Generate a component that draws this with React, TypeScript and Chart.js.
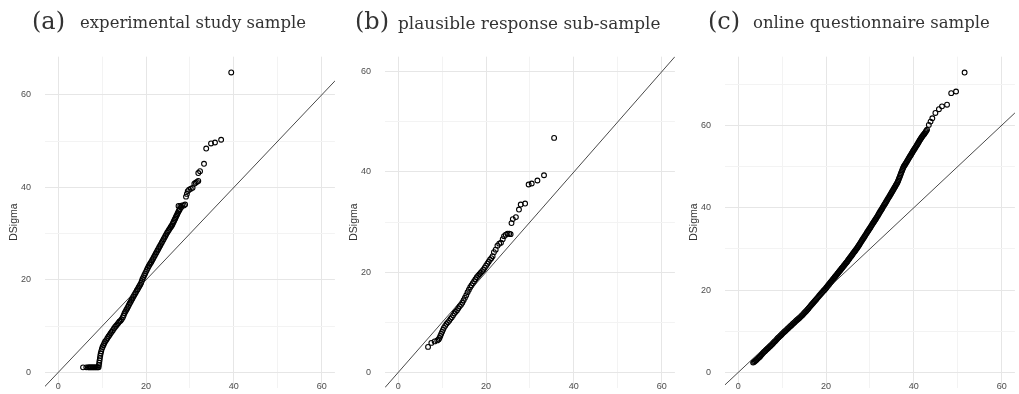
import React, { useEffect, useRef } from "react";
import { Chart, registerables } from "chart.js";

Chart.register(...registerables);

// ---- Data ----
const panelTitles = ["(a)", "(b)", "(c)"];
const panelSubtitles = [
  "experimental study sample",
  "plausible response sub-sample",
  "online questionnaire sample",
];
const yAxisTitle = "DSigma";
const xTickValues = [0, 20, 40, 60];
const yTickValues = [0, 20, 40, 60];

// (a) experimental study sample: [x, DSigma]
const aPoints = [
  [5.66, 1.1], [6.4, 1.1], [6.8, 1.1], [7.0, 1.1], [7.2, 1.1], [7.4, 1.1], [7.6, 1.1], [7.8, 1.1], [8.0, 1.1],
  [8.2, 1.1], [8.4, 1.1], [8.6, 1.1], [8.8, 1.1], [9.0, 1.1], [9.2, 1.1],
  [9.28, 1.6], [9.35, 2.1], [9.42, 2.6], [9.5, 3.1], [9.58, 3.6], [9.68, 4.1], [9.8, 4.6], [9.95, 5.1], [10.1, 5.5],
  [10.3, 5.9], [10.5, 6.3], [10.7, 6.7], [10.95, 7.0], [11.2, 7.4], [11.45, 7.8], [11.7, 8.1], [11.95, 8.5],
  [12.2, 8.8], [12.45, 9.15], [12.7, 9.5], [12.95, 9.85], [13.2, 10.1], [13.45, 10.4], [13.7, 10.7], [13.95, 11.0],
  [14.2, 11.2], [14.45, 11.5], [14.7, 11.9], [14.9, 12.3], [15.1, 12.8], [15.3, 13.15], [15.5, 13.5], [15.7, 13.85],
  [15.9, 14.2], [16.1, 14.6], [16.3, 14.95], [16.5, 15.3], [16.7, 15.65], [16.9, 16.0], [17.1, 16.35], [17.3, 16.7],
  [17.5, 17.0], [17.7, 17.35], [17.9, 17.7], [18.1, 18.0], [18.3, 18.35], [18.5, 18.7], [18.7, 19.0], [18.9, 19.4],
  [19.05, 19.8], [19.2, 20.2], [19.4, 20.6], [19.6, 21.0], [19.8, 21.4], [20.0, 21.8], [20.2, 22.2], [20.4, 22.6],
  [20.6, 22.95], [20.8, 23.3], [21.0, 23.6], [21.2, 23.9], [21.4, 24.25], [21.6, 24.6], [21.8, 24.95], [22.0, 25.3],
  [22.2, 25.65], [22.4, 26.0], [22.6, 26.35], [22.8, 26.7], [23.0, 27.05], [23.2, 27.4], [23.4, 27.75], [23.6, 28.1],
  [23.8, 28.45], [24.0, 28.8], [24.2, 29.15], [24.4, 29.5], [24.6, 29.85], [24.8, 30.2], [25.0, 30.5], [25.2, 30.8],
  [25.4, 31.1], [25.6, 31.4], [25.75, 31.6], [25.9, 31.8], [26.05, 32.1], [26.2, 32.4], [26.35, 32.7], [26.5, 33.0],
  [26.65, 33.3], [26.8, 33.6], [26.95, 33.9], [27.1, 34.2], [27.25, 34.5], [27.4, 34.8], [27.55, 35.05], [27.7, 35.3],
  [28.0, 35.7], [27.4, 36.0], [27.8, 36.0], [28.2, 36.1], [28.6, 36.1], [28.9, 36.3], [29.1, 38.0],
  [29.3, 38.6], [29.5, 39.2], [29.8, 39.5], [30.2, 39.7], [30.6, 39.9], [31.0, 40.8], [31.3, 41.0], [31.6, 41.2],
  [31.9, 41.4], [31.9, 43.1], [32.3, 43.5], [33.2, 45.1], [33.7, 48.4], [34.8, 49.5], [35.7, 49.7], [37.1, 50.3],
  [39.4, 64.85],
];

// (b) plausible response sub-sample: [x, DSigma]
const bPoints = [
  [6.8, 5.1], [7.55, 5.9], [8.3, 6.2], [8.9, 6.4], [9.2, 6.6], [9.4, 6.9], [9.6, 7.3], [9.8, 7.7], [10.0, 8.1],
  [10.2, 8.5], [10.4, 8.9], [10.7, 9.3], [11.0, 9.7], [11.3, 10.0], [11.6, 10.3], [11.9, 10.7], [12.2, 11.0],
  [12.5, 11.4], [12.8, 11.8], [13.1, 12.1], [13.4, 12.4], [13.7, 12.8], [14.0, 13.2], [14.3, 13.5], [14.6, 13.9],
  [14.9, 14.4], [15.2, 14.9], [15.5, 15.4], [15.8, 16.0], [16.1, 16.5], [16.4, 17.0], [16.7, 17.4], [17.0, 17.8],
  [17.3, 18.2], [17.6, 18.6], [17.9, 19.0], [18.2, 19.3], [18.5, 19.6], [18.8, 19.9], [19.1, 20.2], [19.4, 20.5],
  [19.7, 20.9], [20.0, 21.3], [20.3, 21.7], [20.6, 22.1], [20.9, 22.5], [21.2, 22.8], [21.5, 23.2], [21.8, 24.0],
  [22.2, 24.5], [22.6, 25.3], [23.0, 25.7], [23.4, 25.9], [23.8, 26.6], [24.1, 27.2], [24.5, 27.5], [24.9, 27.7],
  [25.3, 27.7], [25.6, 27.6], [25.8, 29.8], [26.1, 30.6], [26.8, 31.0], [27.5, 32.5], [27.9, 33.5], [28.9, 33.7],
  [29.7, 37.5], [30.4, 37.7], [31.7, 38.3], [33.2, 39.35], [35.5, 46.8],
];

// (c) online questionnaire sample: [x, DSigma]
const cPoints = [
  [3.4, 2.4], [3.6, 2.57], [3.8, 2.75], [4.0, 2.92], [4.2, 3.1], [4.4, 3.3], [4.6, 3.5], [4.8, 3.7], [5.0, 3.9],
  [5.2, 4.15], [5.4, 4.4], [5.6, 4.65], [5.8, 4.9], [6.0, 5.1], [6.2, 5.3], [6.4, 5.5], [6.6, 5.7], [6.8, 5.9],
  [7.0, 6.1], [7.2, 6.3], [7.4, 6.5], [7.6, 6.7], [7.8, 6.9], [8.0, 7.15], [8.2, 7.4], [8.4, 7.6], [8.6, 7.8],
  [8.8, 8.05], [9.0, 8.3], [9.2, 8.5], [9.4, 8.7], [9.6, 8.9], [9.8, 9.1], [10.0, 9.33], [10.2, 9.56], [10.4, 9.75],
  [10.6, 9.95], [10.8, 10.15], [11.0, 10.35], [11.2, 10.55], [11.4, 10.75], [11.6, 10.95], [11.8, 11.15],
  [12.0, 11.35], [12.2, 11.55], [12.4, 11.75], [12.6, 11.95], [12.8, 12.15], [13.0, 12.35], [13.2, 12.55],
  [13.4, 12.75], [13.6, 12.92], [13.8, 13.1], [14.0, 13.3], [14.2, 13.5], [14.4, 13.7], [14.6, 13.9], [14.8, 14.15],
  [15.0, 14.4], [15.2, 14.6], [15.4, 14.8], [15.6, 15.05], [15.8, 15.3], [16.0, 15.55], [16.2, 15.8], [16.4, 16.05],
  [16.6, 16.3], [16.8, 16.55], [17.0, 16.8], [17.2, 17.05], [17.4, 17.3], [17.6, 17.55], [17.8, 17.8], [18.0, 18.05],
  [18.2, 18.3], [18.4, 18.55], [18.6, 18.8], [18.8, 19.05], [19.0, 19.3], [19.2, 19.55], [19.4, 19.8], [19.55, 19.95],
  [19.7, 20.1], [19.85, 20.3], [20.0, 20.5], [20.15, 20.7], [20.3, 20.9], [20.45, 21.1], [20.6, 21.3], [20.75, 21.5],
  [20.9, 21.7], [21.05, 21.9], [21.2, 22.1], [21.35, 22.3], [21.5, 22.5], [21.65, 22.7], [21.8, 22.9], [21.95, 23.1],
  [22.1, 23.3], [22.25, 23.5], [22.4, 23.7], [22.55, 23.9], [22.7, 24.1], [22.85, 24.3], [23.0, 24.5], [23.15, 24.7],
  [23.3, 24.9], [23.45, 25.1], [23.6, 25.3], [23.75, 25.5], [23.9, 25.7], [24.05, 25.9], [24.2, 26.1], [24.35, 26.3],
  [24.5, 26.5], [24.65, 26.7], [24.8, 26.9], [24.95, 27.1], [25.1, 27.35], [25.25, 27.57], [25.4, 27.8], [25.55, 28.0],
  [25.7, 28.2], [25.85, 28.42], [26.0, 28.65], [26.15, 28.87], [26.3, 29.1], [26.45, 29.3], [26.6, 29.5],
  [26.75, 29.72], [26.9, 29.95], [27.05, 30.17], [27.2, 30.4], [27.35, 30.65], [27.5, 30.9], [27.65, 31.15],
  [27.8, 31.4], [27.95, 31.65], [28.1, 31.9], [28.25, 32.15], [28.4, 32.4], [28.55, 32.65], [28.7, 32.9],
  [28.85, 33.15], [29.0, 33.4], [29.15, 33.65], [29.3, 33.9], [29.45, 34.15], [29.6, 34.4], [29.75, 34.65],
  [29.9, 34.9], [30.05, 35.15], [30.2, 35.4], [30.35, 35.65], [30.5, 35.9], [30.65, 36.15], [30.8, 36.4],
  [30.95, 36.65], [31.1, 36.9], [31.25, 37.15], [31.4, 37.4], [31.55, 37.65], [31.7, 37.9], [31.85, 38.17],
  [32.0, 38.45], [32.15, 38.72], [32.3, 39.0], [32.45, 39.25], [32.6, 39.5], [32.75, 39.77], [32.9, 40.05],
  [33.05, 40.32], [33.2, 40.6], [33.35, 40.85], [33.5, 41.1], [33.65, 41.37], [33.8, 41.65], [33.95, 41.92],
  [34.1, 42.2], [34.25, 42.45], [34.4, 42.7], [34.55, 42.97], [34.7, 43.25], [34.85, 43.52], [35.0, 43.8],
  [35.15, 44.07], [35.3, 44.35], [35.45, 44.62], [35.6, 44.9], [35.75, 45.17], [35.9, 45.45], [36.05, 45.72],
  [36.2, 46.0], [36.33, 46.3], [36.45, 46.6], [36.58, 46.95], [36.7, 47.3], [36.83, 47.65], [36.95, 48.0],
  [37.08, 48.35], [37.2, 48.7], [37.33, 49.05], [37.45, 49.4], [37.58, 49.7], [37.7, 50.0], [37.85, 50.25],
  [38.0, 50.5], [38.15, 50.75], [38.3, 51.0], [38.45, 51.27], [38.6, 51.55], [38.75, 51.82], [38.9, 52.1],
  [39.05, 52.35], [39.2, 52.6], [39.35, 52.87], [39.5, 53.15], [39.65, 53.42], [39.8, 53.7], [39.95, 53.95],
  [40.1, 54.2], [40.25, 54.45], [40.4, 54.7], [40.55, 54.95], [40.7, 55.2], [40.85, 55.47], [41.0, 55.75],
  [41.15, 56.02], [41.3, 56.3], [41.45, 56.55], [41.6, 56.8], [41.75, 57.05], [41.9, 57.3], [42.05, 57.5],
  [42.2, 57.7], [42.35, 57.9], [42.5, 58.1], [42.65, 58.35], [42.8, 58.6], [43.0, 58.9],
  [43.4, 60.1], [43.8, 60.9], [44.2, 61.7], [44.9, 63.0], [45.7, 63.9], [46.4, 64.6], [47.55, 65.0], [48.5, 67.8],
  [49.6, 68.2], [51.55, 72.8],
];

const xLimits = [-3, 63];
const yLimitsA = [-3.25, 68.25];
const yLimitsB = [-3, 63];
const yLimitsC = [-3.65, 76.65];
const refLine = [-10, 90];

// ---- Layout ----
const CANVAS_W = 340;
const CANVAS_H = 394;
const AREA_LEFT = 45;
const AREA_TOP = 56.7;
const AREA_BOTTOM = 387.5;
const AREA_RIGHT_PAD = 3.4;
const X_LABEL_Y = 386.5;
const TICK_FONT = "9px 'Liberation Sans', Arial, sans-serif";

const xLabelPlugin = {
  id: "xLabels",
  afterDraw(chart: any) {
    const sx = chart.scales.x;
    const ctx = chart.ctx;
    ctx.save();
    ctx.font = TICK_FONT;
    ctx.fillStyle = "#4d4d4d";
    ctx.textAlign = "center";
    ctx.textBaseline = "middle";
    xTickValues.forEach((v) => ctx.fillText(String(v), sx.getPixelForValue(v), X_LABEL_Y));
    ctx.restore();
  },
};

function Panel({ points, yLim, left }: { points: number[][]; yLim: number[]; left: number }) {
  const ref = useRef<HTMLCanvasElement | null>(null);
  useEffect(() => {
    if (!ref.current) return;
    const pts = points.map((p) => ({ x: p[0], y: p[1] }));
    const chart = new Chart(ref.current, {
      type: "scatter",
      data: {
        datasets: [
          {
            data: refLine.map((v) => ({ x: v, y: v })),
            showLine: true,
            borderColor: "#1a1a1a",
            borderWidth: 0.8,
            pointRadius: 0,
            fill: false,
          },
          {
            data: pts,
            pointStyle: "circle",
            pointRadius: 2.4,
            pointBorderWidth: 1.1,
            borderColor: "#000000",
            backgroundColor: "rgba(0,0,0,0)",
            pointBackgroundColor: "rgba(0,0,0,0)",
            pointBorderColor: "#000000",
          },
        ],
      },
      options: {
        animation: false,
        responsive: false,
        maintainAspectRatio: false,
        events: [],
        layout: { padding: { top: AREA_TOP, right: AREA_RIGHT_PAD, left: 0, bottom: 0 } },
        plugins: { legend: { display: false }, tooltip: { enabled: false }, title: { display: false } },
        scales: {
          x: {
            type: "linear",
            min: xLimits[0],
            max: xLimits[1],
            border: { display: false },
            grid: {
              drawTicks: false,
              lineWidth: 1,
              color: (ctx: any) => (ctx.tick && xTickValues.includes(ctx.tick.value) ? "#e6e6e6" : "#f3f3f3"),
            },
            ticks: { display: false, stepSize: 10, includeBounds: false, autoSkip: false },
            afterFit: (s: any) => {
              s.height = CANVAS_H - AREA_BOTTOM;
            },
          },
          y: {
            type: "linear",
            min: yLim[0],
            max: yLim[1],
            border: { display: false },
            grid: {
              drawTicks: true,
              tickLength: 14,
              tickColor: "rgba(0,0,0,0)",
              lineWidth: 1,
              color: (ctx: any) => (ctx.tick && yTickValues.includes(ctx.tick.value) ? "#e6e6e6" : "#f3f3f3"),
            },
            ticks: {
              stepSize: 10,
              includeBounds: false,
              autoSkip: false,
              padding: 0,
              color: "#4d4d4d",
              font: { family: "'Liberation Sans', Arial, sans-serif", size: 9 },
              callback: (v: any) => (yTickValues.includes(Number(v)) ? String(v) : ""),
            },
            title: {
              display: true,
              text: yAxisTitle,
              color: "#333333",
              font: { family: "'Liberation Sans', Arial, sans-serif", size: 10.5 },
              padding: { top: 7.5, bottom: 0 },
            },
            afterFit: (s: any) => {
              s.width = AREA_LEFT;
            },
          },
        },
      },
      plugins: [xLabelPlugin],
    } as any);
    return () => chart.destroy();
  }, [points, yLim]);
  return (
    <canvas
      ref={ref}
      width={CANVAS_W}
      height={CANVAS_H}
      style={{ position: "absolute", left, top: 0, width: CANVAS_W, height: CANVAS_H }}
    />
  );
}

const titleLefts = [32, 355, 708];
const subtitleLefts = [80, 398, 753];

export default function App() {
  return (
    <div style={{ position: "absolute", left: 0, top: 0, width: 1019, height: 394, background: "#fff", overflow: "hidden" }}>
      <Panel points={aPoints} yLim={yLimitsA} left={0} />
      <Panel points={bPoints} yLim={yLimitsB} left={340} />
      <Panel points={cPoints} yLim={yLimitsC} left={680} />
      {panelTitles.map((t, i) => (
        <React.Fragment key={t}>
          <div
            style={{
              position: "absolute",
              left: titleLefts[i],
              top: 9,
              whiteSpace: "nowrap",
              fontFamily: "'DejaVu Serif', serif",
              fontSize: 24,
              lineHeight: 1,
              color: "#333333",
            }}
          >
            {t}
          </div>
          <div
            style={{
              position: "absolute",
              left: subtitleLefts[i],
              top: 15.3,
              whiteSpace: "nowrap",
              fontFamily: "'DejaVu Serif', serif",
              fontSize: i === 1 ? 16.9 : 16.5,
              lineHeight: 1,
              color: "#333333",
            }}
          >
            {panelSubtitles[i]}
          </div>
        </React.Fragment>
      ))}
    </div>
  );
}
